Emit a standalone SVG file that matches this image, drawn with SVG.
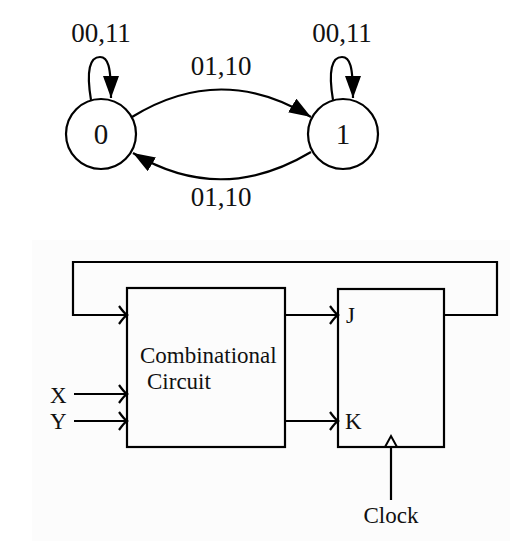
<svg xmlns="http://www.w3.org/2000/svg" width="523" height="548" viewBox="0 0 523 548">
<style>
  text { font-family: "Liberation Serif", "DejaVu Serif", serif; fill: #111; }
  .lbl { font-size: 27px; text-anchor: middle; }
  .st { font-size: 29px; text-anchor: middle; }
  .bt { font-size: 23px; }
  .edge { fill: none; stroke: #000; stroke-width: 2.2; }
  .wire { fill: none; stroke: #000; stroke-width: 2.2; }
  .node { fill: #fff; stroke: #000; stroke-width: 2.2; }
  .box { fill: none; stroke: #000; stroke-width: 2.2; }
</style>
<defs>
  <marker id="tri" markerUnits="userSpaceOnUse" markerWidth="24" markerHeight="18" refX="22" refY="8" orient="auto">
    <path d="M0,0 L22,8 L0,16 z" fill="#000"/>
  </marker>
  <marker id="chev" markerUnits="userSpaceOnUse" markerWidth="14" markerHeight="24" refX="11" refY="11" orient="auto" overflow="visible">
    <path d="M3,2 Q8,9 11,11 Q8,13 3,20" fill="none" stroke="#000" stroke-width="2.2"/>
  </marker>
</defs>
<rect x="32" y="240" width="478" height="301" fill="#fcfcfc"/>

<g id="connectors">
  <path class="edge" d="M91,100 C86,70 90,57 100,57 C108,57 111,66 111,98" marker-end="url(#tri)"/>
  <path class="edge" d="M333,100 C328,70 332,57 342,57 C350,57 353,66 353,98" marker-end="url(#tri)"/>
  <path class="edge" d="M132,117 Q221,62 311,117" marker-end="url(#tri)"/>
  <path class="edge" d="M311,152 Q221,206 133,153" marker-end="url(#tri)"/>
  <text class="lbl" x="101" y="42">00,11</text>
  <text class="lbl" x="342" y="42">00,11</text>
  <text class="lbl" x="221" y="75">01,10</text>
  <text class="lbl" x="221" y="206">01,10</text>

  <path class="wire" d="M444,315 H497 V262 H73 V315 H127" marker-end="url(#chev)"/>
  <path class="wire" d="M74,394 H127" marker-end="url(#chev)"/>
  <path class="wire" d="M74,421 H127" marker-end="url(#chev)"/>
  <path class="wire" d="M285,315 H338" marker-end="url(#chev)"/>
  <path class="wire" d="M285,421 H338" marker-end="url(#chev)"/>
  <path class="wire" d="M391,448 V500"/>
  <path d="M385,447 L391,436 L397,447" fill="#fff" stroke="#000" stroke-width="2"/>
  <text class="bt" x="50" y="403">X</text>
  <text class="bt" x="50" y="429">Y</text>
  <text class="bt" x="391" y="523" text-anchor="middle">Clock</text>
</g>

<g id="state0">
  <circle class="node" cx="101" cy="134" r="35"/>
  <text class="st" x="101" y="144">0</text>
</g>
<g id="state1">
  <circle class="node" cx="343" cy="134" r="35"/>
  <text class="st" x="343" y="144">1</text>
</g>

<g id="comb">
  <rect class="box" x="127" y="288" width="158" height="159"/>
  <text class="bt" x="140" y="363">Combinational</text>
  <text class="bt" x="147" y="389">Circuit</text>
</g>
<g id="jkff">
  <rect class="box" x="338" y="289" width="106" height="158"/>
  <text class="bt" x="346" y="323">J</text>
  <text class="bt" x="345" y="429">K</text>
</g>
</svg>
